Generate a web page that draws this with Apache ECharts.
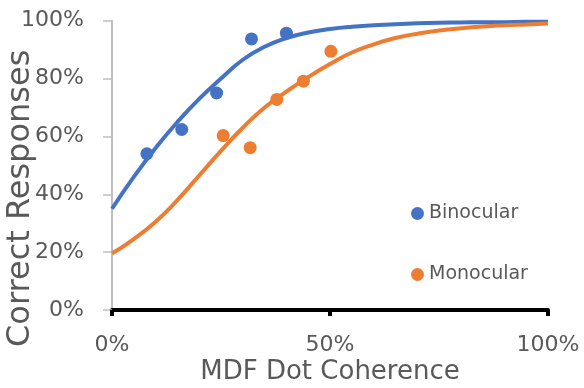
<!DOCTYPE html>
<html>
<head>
<meta charset="utf-8">
<script src="https://cdn.jsdelivr.net/npm/echarts@6/dist/echarts.min.js"></script>
<style>html,body{margin:0;padding:0;background:#fff}#c{width:584px;height:388px}</style>
</head>
<body>
<div id="c"></div>
<script>
// Data (percent units)
const xTicks = [0, 50, 100];
const yTicks = [0, 20, 40, 60, 80, 100];

const binocularX = [8, 16, 24, 32, 40];
const binocularY = [54, 62.4, 75, 93.7, 95.7];

const monocularX = [25.5, 31.7, 37.8, 43.9, 50.2];
const monocularY = [60.3, 56.1, 72.8, 79.1, 89.4];

const fitX = [0, 5, 10, 15, 20, 25, 30, 35, 40, 45, 50, 55, 60, 65, 70, 75, 80, 85, 90, 95, 100];
const binocularFit = [35, 46, 56, 65, 73, 80, 86.5, 91, 94, 95.9, 97.1, 97.9, 98.4, 98.8, 99.1, 99.3, 99.4, 99.5, 99.5, 99.6, 99.6];
const monocularFit = [19.5, 24.5, 30.5, 38, 46.5, 55, 63, 70, 75.5, 80.5, 85, 89, 91.8, 94, 95.5, 96.6, 97.4, 98, 98.4, 98.7, 99];

const BLUE = '#4472C4';
const ORANGE = '#ED7D31';
const TXT = '#595959';
const FONT = 'DejaVu Sans';

const pairs = (xs, ys) => xs.map((x, i) => [x, ys[i]]);

const chart = echarts.init(document.getElementById('c'), null, {renderer: 'canvas'});
chart.setOption({
  animation: false,
  backgroundColor: '#fff',
  grid: {left: 112, right: 36, top: 20.7, bottom: 78, containLabel: false, outerBoundsMode: 'none'},
  legend: {
    data: ['Binocular', 'Monocular'],
    orient: 'vertical',
    left: 406,
    top: 199,
    itemGap: 42,
    itemWidth: 13,
    itemHeight: 13,
    icon: 'circle',
    textStyle: {color: TXT, fontFamily: FONT, fontSize: 19}
  },
  xAxis: {
    type: 'value',
    min: xTicks[0],
    max: xTicks[xTicks.length - 1],
    interval: xTicks[1] - xTicks[0],
    name: 'MDF Dot Coherence',
    nameLocation: 'middle',
    nameGap: 49,
    nameMoveOverlap: false,
    nameTextStyle: {color: TXT, fontFamily: FONT, fontSize: 26},
    axisLine: {show: true, onZero: false, lineStyle: {color: '#000', width: 4}},
    axisTick: {show: true, length: 6, lineStyle: {color: '#000', width: 4}},
    axisLabel: {color: TXT, fontFamily: FONT, fontSize: 22, margin: 24, formatter: '{value}%'},
    splitLine: {show: false}
  },
  yAxis: {
    type: 'value',
    min: yTicks[0],
    max: yTicks[yTicks.length - 1],
    interval: yTicks[1] - yTicks[0],
    name: 'Correct Responses',
    nameLocation: 'middle',
    nameRotate: 90,
    nameGap: 75,
    nameMoveOverlap: false,
    nameTextStyle: {color: TXT, fontFamily: FONT, fontSize: 32, padding: [0, 66, 0, 0]},
    axisLine: {show: true, lineStyle: {color: '#BFBFBF', width: 2}},
    axisTick: {show: true, length: 9, lineStyle: {color: '#BFBFBF', width: 1.5}},
    axisLabel: {color: TXT, fontFamily: FONT, fontSize: 22, margin: 28, formatter: '{value}%'},
    splitLine: {show: false}
  },
  series: [
    {
      name: 'Binocular fit', type: 'line', data: pairs(fitX, binocularFit),
      smooth: true, showSymbol: false, symbol: 'none',
      lineStyle: {color: BLUE, width: 4}, z: 2
    },
    {
      name: 'Monocular fit', type: 'line', data: pairs(fitX, monocularFit),
      smooth: true, showSymbol: false, symbol: 'none',
      lineStyle: {color: ORANGE, width: 4}, z: 2
    },
    {
      name: 'Binocular', type: 'scatter', data: pairs(binocularX, binocularY),
      symbol: 'circle', symbolSize: 13, itemStyle: {color: BLUE, opacity: 1}, z: 3
    },
    {
      name: 'Monocular', type: 'scatter', data: pairs(monocularX, monocularY),
      symbol: 'circle', symbolSize: 13, itemStyle: {color: ORANGE, opacity: 1}, z: 3
    }
  ]
});
</script>
</body>
</html>
